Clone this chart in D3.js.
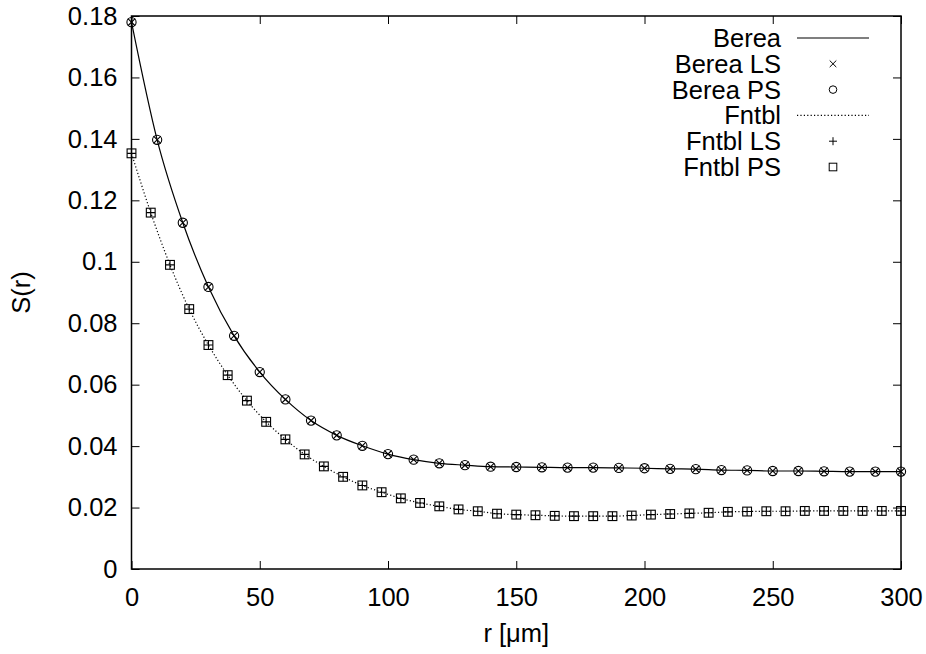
<!DOCTYPE html>
<html>
<head>
<meta charset="utf-8">
<script src="https://cdn.jsdelivr.net/npm/d3@7"></script>
<style>
  body { margin: 0; background: #fff; }
  text { font-family: "Liberation Sans", Arial, sans-serif; fill: #000; }
</style>
</head>
<body>
<script>
"use strict"

// data (LS and PS markers sit on the same values)
var bereaR = d3.range(0, 301, 10);
var bereaS = [0.178, 0.1397, 0.1127, 0.0918, 0.0759, 0.0641, 0.0552, 0.0483, 0.0435, 0.0401,
              0.0374, 0.0356, 0.0344, 0.0338, 0.0333, 0.0332, 0.0331, 0.0330, 0.0330, 0.0329,
              0.0328, 0.0326, 0.0325, 0.0322, 0.0321, 0.0319, 0.0319, 0.0318, 0.0317, 0.0317, 0.0317];
var fntblR = d3.range(0, 300.1, 7.5);
var fntblS = [0.1353, 0.1160, 0.0990, 0.0846, 0.0729, 0.0631, 0.0548, 0.0479, 0.0422, 0.0373,
              0.0334, 0.0300, 0.0272, 0.0250, 0.0230, 0.0215, 0.0204, 0.0194, 0.0188, 0.0180,
              0.0177, 0.0175, 0.0173, 0.0172, 0.0172, 0.0172, 0.0174, 0.0177, 0.0179, 0.0181,
              0.0183, 0.0186, 0.0187, 0.0188, 0.0188, 0.0189, 0.0189, 0.0189, 0.0189, 0.0189, 0.0189];

var xTicks = [0, 50, 100, 150, 200, 250, 300];
var yTicks = [0, 0.02, 0.04, 0.06, 0.08, 0.1, 0.12, 0.14, 0.16, 0.18];
var legendNames = ["Berea", "Berea LS", "Berea PS", "Fntbl", "Fntbl LS", "Fntbl PS"];

var W = 926, H = 654;
var margin = {top: 16, right: 25, bottom: 85, left: 131.5},
    width = W - margin.left - margin.right,
    height = H - margin.top - margin.bottom;

var fontSize = "25.5px";

var svg = d3.select("body").append("svg")
    .attr("width", W)
    .attr("height", H);

var g = svg.append("g")
    .attr("transform", "translate(" + margin.left + "," + margin.top + ")");

var x = d3.scaleLinear().domain([0, 300]).range([0, width]);
var y = d3.scaleLinear().domain([0, 0.18]).range([height, 0]);

var fmt = function(d) { return String(+d.toFixed(2)); };
var tickLen = 8;

// ticks on all four sides, pointing inward
function styleAxis(sel) {
    sel.select(".domain").remove();
    sel.selectAll(".tick line").attr("stroke", "#000").attr("stroke-width", 1);
    sel.selectAll("text").attr("font-size", fontSize).attr("fill", "#000")
        .attr("font-family", "Liberation Sans, Arial, sans-serif");
}

g.append("g")
    .attr("transform", "translate(0," + height + ")")
    .call(d3.axisBottom(x).tickValues(xTicks).tickFormat(fmt).tickSizeInner(-tickLen).tickSizeOuter(0).tickPadding(19))
    .call(styleAxis);
g.append("g")
    .call(d3.axisTop(x).tickValues(xTicks).tickFormat("").tickSizeInner(-tickLen).tickSizeOuter(0))
    .call(styleAxis);
g.append("g")
    .call(d3.axisLeft(y).tickValues(yTicks).tickFormat(fmt).tickSizeInner(-tickLen).tickSizeOuter(0).tickPadding(14))
    .call(styleAxis);
g.append("g")
    .attr("transform", "translate(" + width + ",0)")
    .call(d3.axisRight(y).tickValues(yTicks).tickFormat("").tickSizeInner(-tickLen).tickSizeOuter(0))
    .call(styleAxis);

g.append("rect")
    .attr("width", width)
    .attr("height", height)
    .attr("fill", "none")
    .attr("stroke", "#000")
    .attr("stroke-width", 1.5);

// axis titles
svg.append("text")
    .attr("x", margin.left + width / 2)
    .attr("y", 642)
    .attr("text-anchor", "middle")
    .attr("font-size", fontSize)
    .text("r [\u03bcm]");

svg.append("text")
    .attr("transform", "translate(30," + (margin.top + height / 2) + ") rotate(-90)")
    .attr("text-anchor", "middle")
    .attr("font-size", fontSize)
    .text("S(r)");

var line = d3.line()
    .x(function(d) { return x(d[0]); })
    .y(function(d) { return y(d[1]); })
    .curve(d3.curveMonotoneX);

var berea = d3.zip(bereaR, bereaS);
var fntbl = d3.zip(fntblR, fntblS);

g.append("path")
    .datum(berea)
    .attr("d", line)
    .attr("fill", "none")
    .attr("stroke", "#000")
    .attr("stroke-width", 1.2);

g.append("path")
    .datum(fntbl)
    .attr("d", line)
    .attr("fill", "none")
    .attr("stroke", "#000")
    .attr("stroke-width", 1.2)
    .attr("stroke-dasharray", "1.2,2.2");

// marker drawing
function cross(sel, s) {
    sel.append("path").attr("d", "M" + (-s) + "," + (-s) + "L" + s + "," + s + "M" + (-s) + "," + s + "L" + s + "," + (-s));
}
function plus(sel, s) {
    sel.append("path").attr("d", "M" + (-s) + ",0L" + s + ",0M0," + (-s) + "L0," + s);
}
function circle(sel, r) {
    sel.append("circle").attr("r", r);
}
function square(sel, s) {
    sel.append("rect").attr("x", -s).attr("y", -s).attr("width", 2 * s).attr("height", 2 * s);
}

function markers(data, draw, size) {
    g.append("g")
        .attr("fill", "none")
        .attr("stroke", "#000")
        .attr("stroke-width", 1.1)
      .selectAll("g")
      .data(data)
      .enter().append("g")
        .attr("transform", function(d) { return "translate(" + x(d[0]) + "," + y(d[1]) + ")"; })
        .each(function() { draw(d3.select(this), size); });
}

markers(berea, cross, 3.6);
markers(berea, circle, 4.6);
markers(fntbl, plus, 4.4);
markers(fntbl, square, 4.4);

// legend
var legX = 781, legSym = 833, legY0 = 38, legStep = 25.8;
var leg = svg.append("g");
legendNames.forEach(function(name, i) {
    var cy = legY0 + i * legStep;
    leg.append("text")
        .attr("x", legX)
        .attr("y", cy + 9)
        .attr("text-anchor", "end")
        .attr("font-size", fontSize)
        .text(name);
    var sym = leg.append("g")
        .attr("transform", "translate(" + legSym + "," + cy + ")")
        .attr("fill", "none")
        .attr("stroke", "#000")
        .attr("stroke-width", 1);
    if (i == 0 || i == 3) {
        sym.append("line")
            .attr("x1", -36).attr("x2", 36)
            .attr("stroke-width", 1.2)
            .attr("stroke-dasharray", i == 3 ? "1.2,2.2" : null);
    } else if (i == 1) {
        cross(sym, 3.3);
    } else if (i == 2) {
        circle(sym, 3.8);
    } else if (i == 4) {
        plus(sym, 4);
    } else {
        square(sym, 3.8);
    }
});
</script>
</body>
</html>
